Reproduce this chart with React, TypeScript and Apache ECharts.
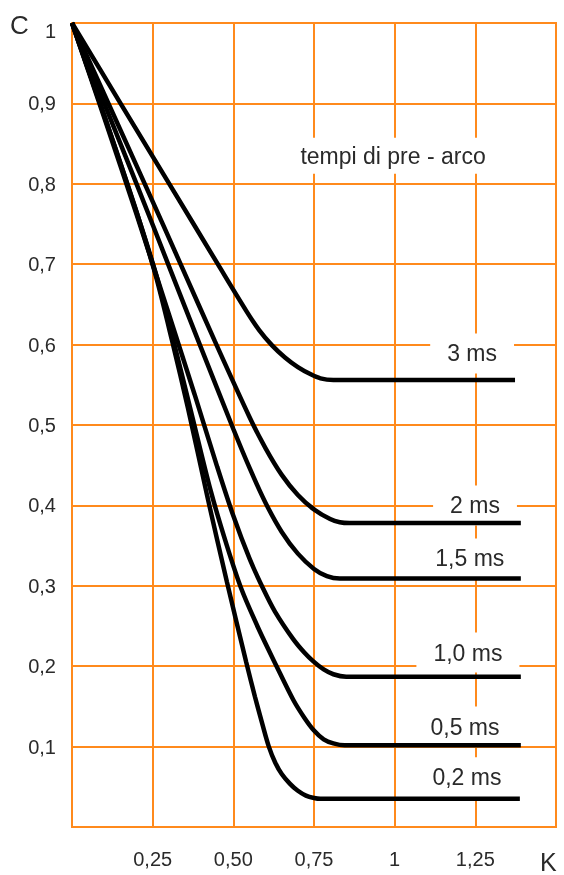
import React, { useEffect, useRef } from "react";
import * as echarts from "echarts";

// K (x) and C (y) values, one list per pre-arc time
const curve02: [number, number][] = [
  [0, 1], [0.1, 0.885], [0.2, 0.765], [0.26, 0.685], [0.31, 0.605], [0.36, 0.52],
  [0.42, 0.41], [0.48, 0.305], [0.54, 0.205], [0.567, 0.162], [0.59, 0.128], [0.61, 0.1],
  [0.63, 0.08], [0.65, 0.066], [0.675, 0.054], [0.7, 0.045], [0.725, 0.039], [0.75, 0.036],
  [0.77, 0.035], [1.388, 0.035],
];
const curve05: [number, number][] = [
  [0, 1], [0.1, 0.885], [0.2, 0.765], [0.26, 0.688], [0.31, 0.612], [0.37, 0.515],
  [0.43, 0.418], [0.48, 0.35], [0.526, 0.295], [0.58, 0.245], [0.634, 0.2], [0.686, 0.158],
  [0.72, 0.136], [0.75, 0.12], [0.78, 0.109], [0.81, 0.104], [0.845, 0.1016], [1.391, 0.1016],
];
const curve10: [number, number][] = [
  [0, 1], [0.1, 0.882], [0.2, 0.762], [0.3, 0.638], [0.38, 0.538], [0.45, 0.448],
  [0.5, 0.387], [0.55, 0.334], [0.593, 0.296], [0.629, 0.268], [0.685, 0.234], [0.72, 0.217],
  [0.748, 0.206], [0.78, 0.196], [0.81, 0.19], [0.85, 0.187], [1.391, 0.187],
];
const curve15: [number, number][] = [
  [0, 1], [0.1, 0.9], [0.2, 0.8], [0.3, 0.698], [0.4, 0.596], [0.5, 0.495],
  [0.552, 0.445], [0.6, 0.403], [0.65, 0.367], [0.7, 0.34], [0.75, 0.321], [0.79, 0.312],
  [0.83, 0.309], [1.391, 0.309],
];
const curve20: [number, number][] = [
  [0, 1], [0.115, 0.898], [0.231, 0.795], [0.34, 0.697], [0.443, 0.604], [0.55, 0.51],
  [0.6, 0.471], [0.65, 0.438], [0.7, 0.413], [0.75, 0.395], [0.8, 0.383], [0.83, 0.379],
  [0.86, 0.378], [1.391, 0.378],
];
const curve30: [number, number][] = [
  [0, 1], [0.155, 0.897], [0.309, 0.795], [0.452, 0.7], [0.54, 0.642], [0.58, 0.618],
  [0.62, 0.599], [0.66, 0.584], [0.7, 0.572], [0.74, 0.563], [0.77, 0.558], [0.81, 0.556],
  [1.373, 0.556],
];

const curves = [curve02, curve05, curve10, curve15, curve20, curve30];
const curveNames = ["0,2 ms", "0,5 ms", "1,0 ms", "1,5 ms", "2 ms", "3 ms"];
const curveLabelAt: [number, number][] = [
  [1.224, 0.062], [1.218, 0.125], [1.227, 0.217], [1.233, 0.334], [1.249, 0.4], [1.24, 0.589],
];
const titleText = "tempi di pre - arco";
const titleAt: [number, number] = [0.995, 0.835];

const xTickLabels: Record<string, string> = {
  "0.25": "0,25", "0.5": "0,50", "0.75": "0,75", "1": "1", "1.25": "1,25",
};

const FONT = "'Liberation Sans', Arial, sans-serif";
const ORANGE = "#ff8a1c";
const TEXT = "#2a2a2a";

export default function App() {
  const ref = useRef<HTMLDivElement>(null);
  useEffect(() => {
    if (!ref.current) return;
    const chart = echarts.init(ref.current, undefined, { renderer: "svg" });
    const labelStyle = {
      show: true,
      position: "inside",
      backgroundColor: "#ffffff",
      padding: [8, 17],
      fontSize: 23,
      lineHeight: 24,
      color: TEXT,
      opacity: 1,
      fontFamily: FONT,
    };
    const labelData = [
      ...curveLabelAt.map((p, i) => ({ value: p, label: { ...labelStyle, formatter: curveNames[i] } })),
      { value: titleAt, label: { ...labelStyle, padding: [6, 14], formatter: titleText } },
    ];
    chart.setOption({
      animation: false,
      grid: {
        left: 72, right: 8, top: 23, bottom: 48,
        show: true, borderColor: ORANGE, borderWidth: 2, backgroundColor: "#fff",
      },
      xAxis: {
        type: "value", min: 0, max: 1.5, interval: 0.25,
        axisLine: { show: false }, axisTick: { show: false },
        splitLine: { show: true, lineStyle: { color: ORANGE, width: 2 } },
        axisLabel: {
          margin: 22, fontSize: 20, color: TEXT, fontFamily: FONT,
          formatter: (v: number) => xTickLabels[String(v)] ?? "",
        },
      },
      yAxis: {
        type: "value", min: 0, max: 1, interval: 0.1,
        axisLine: { show: false }, axisTick: { show: false },
        splitLine: { show: true, lineStyle: { color: ORANGE, width: 2 } },
        axisLabel: {
          margin: 16, fontSize: 20, color: TEXT, fontFamily: FONT,
          formatter: (v: number) => {
            if (v < 0.05) return "";
            if (v > 0.95) return "{top|1}";
            return v.toFixed(1).replace(".", ",");
          },
          rich: { top: { fontSize: 20, color: TEXT, fontFamily: FONT, padding: [16, 0, 0, 0] } },
        },
      },
      graphic: [
        { type: "text", left: 10, top: 12, style: { text: "C", fontSize: 26, fill: TEXT, fontFamily: FONT } },
        { type: "text", left: 540, top: 849, style: { text: "K", fontSize: 25, fill: TEXT, fontFamily: FONT } },
      ],
      series: [
        {
          type: "scatter", z: 1, silent: true, symbolSize: 1,
          itemStyle: { color: "#ffffff", opacity: 1 },
          emphasis: { disabled: true },
          data: labelData,
        },
        ...curves.map((c, i) => ({
          type: "line", name: curveNames[i], data: c, z: 3,
          symbol: "none", smooth: 0.3,
          lineStyle: { color: "#000", width: 4.5 },
        })),
      ],
    });
    return () => chart.dispose();
  }, []);
  return <div ref={ref} style={{ position: "fixed", left: 0, top: 0, width: 564, height: 875 }} />;
}
